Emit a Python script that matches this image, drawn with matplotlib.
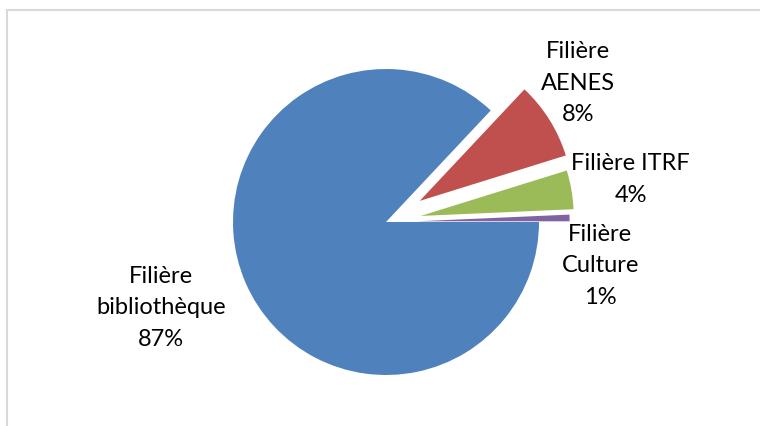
import matplotlib.pyplot as plt
from matplotlib.patches import Rectangle

# slices, drawn counter-clockwise from 3 o'clock
names = ["Filière\nCulture", "Filière ITRF", "Filière\nAENES", "Filière\nbibliothèque"]
values = [0.7, 4.1, 8.2, 87.0]
colors = ["#8064A2", "#9BBB59", "#C0504D", "#4F81BD"]
explode = [0.2, 0.23, 0.26, 0.0]

# label centres, in pie radii from the pie centre
label_pos = [(1.40, -0.28), (1.60, 0.284), (1.255, 0.915), (-1.47, -0.555)]

W, H = 760, 427
cx, cy, R = 386, 223, 153  # pie centre and radius in pixels

plt.rcParams['font.family'] = ['Lato', 'DejaVu Sans']

fig = plt.figure(figsize=(W / 100, H / 100), dpi=100)
ax = fig.add_axes([0, 0, 1, 1])

ax.pie(values, colors=colors, explode=explode, startangle=0, counterclock=True,
       radius=1, wedgeprops=dict(linewidth=0))

total = sum(values)
for name, v, (x, y) in zip(names, values, label_pos):
    ax.text(x, y, f"{name}\n{v / total * 100:.0f}%", ha='center', va='center',
            fontsize=17, color='black', linespacing=1.62)

ax.set_xlim(-cx / R, (W - cx) / R)
ax.set_ylim(-(H - cy) / R, cy / R)
ax.set_aspect('auto')
ax.axis('off')

# chart area frame (cut at the right and bottom)
top = 1 - 11 / H
fig.add_artist(Rectangle((7 / W, -0.05), 1.0, top + 0.05, transform=fig.transFigure,
                         fill=False, ec='#D9D9D9', lw=1.5))

fig.savefig('out.png', dpi=100)
